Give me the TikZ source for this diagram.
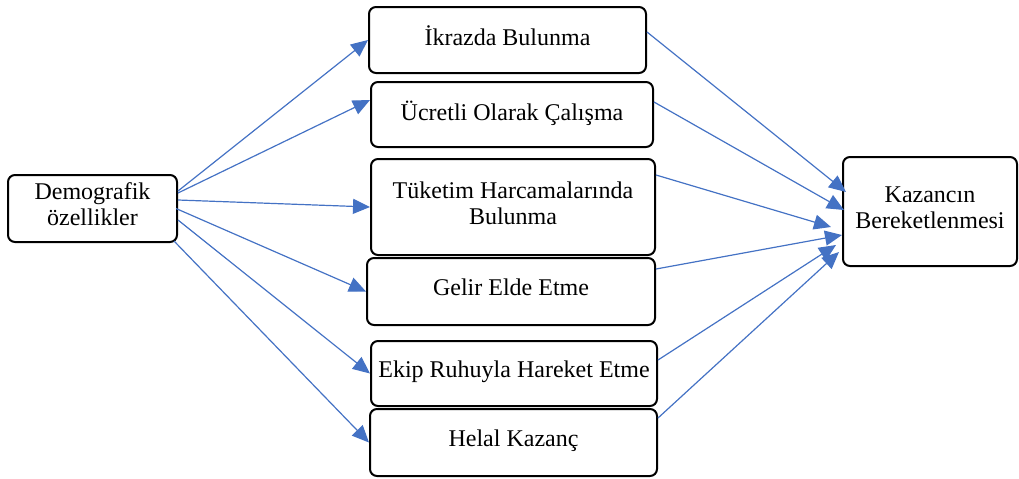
\documentclass[tikz,border=0pt]{standalone}
\usepackage{fontspec}
\setmainfont{Liberation Serif}
\usetikzlibrary{arrows.meta}
\definecolor{okmavi}{HTML}{4472C4}
\begin{document}
\begin{tikzpicture}[x=0.5pt, y=-0.5pt,
    kutu/.style={draw, line width=1pt, rounded corners=3.5pt, align=center,
        inner sep=0pt, text depth=4pt, font=\fontsize{12}{13}\selectfont},
    ok/.style={color=okmavi, line width=0.6pt, -{Triangle[length=8.5pt,width=7.5pt]}}]
    \useasboundingbox (0,0) rectangle (1019,478);
    % Left box
    \node[kutu, minimum width=84.5pt, minimum height=33.5pt] (demo) at (92.5,208.5) {Demografik\\özellikler};
    % Middle boxes
    \node[kutu, minimum width=138.5pt, minimum height=33pt] (ikraz) at (507.5,40) {İkrazda Bulunma};
    \node[kutu, minimum width=141pt, minimum height=32.5pt] (ucret) at (512,114.5) {Ücretli Olarak Çalışma};
    \node[kutu, minimum width=142pt, minimum height=48pt] (tuket) at (513,207) {Tüketim Harcamalarında\\Bulunma};
    \node[kutu, minimum width=144pt, minimum height=33.5pt] (gelir) at (511,291.5) {Gelir Elde Etme};
    \node[kutu, minimum width=143pt, minimum height=32.5pt] (ekip) at (514,373.5) {Ekip Ruhuyla Hareket Etme};
    \node[kutu, minimum width=143.5pt, minimum height=33.5pt] (helal) at (513.5,442.5) {Helal Kazanç};
    % Right box
    \node[kutu, minimum width=87pt, minimum height=54.5pt] (kazanc) at (930,211.5) {Kazancın\\Bereketlenmesi};
    % Left-hand Arrows
    \draw[ok] ([yshift=8.75pt]demo.east) -- (ikraz.west);
    \draw[ok] ([yshift=7.75pt]demo.east) -- ([yshift=7.25pt]ucret.west);
    \draw[ok] ([yshift=4.25pt]demo.east) -- (tuket.west);
    \draw[ok] ([xshift=-1pt]demo.east) -- (gelir.west);
    \draw[ok] ([yshift=-5.75pt]demo.east) -- (ekip.west);
    \draw[ok] ([xshift=-2pt,yshift=1pt]demo.south east) -- (helal.west);
    % Right-hand Arrows
    \draw[ok] ([yshift=4pt]ikraz.east) -- ([xshift=2pt,yshift=9.75pt]kazanc.west);
    \draw[ok] ([yshift=6.25pt]ucret.east) -- ([xshift=1pt,yshift=0.75pt]kazanc.west);
    \draw[ok] ([yshift=16pt]tuket.east) -- ([xshift=-5.5pt,yshift=-7.75pt]kazanc.west);
    \draw[ok] ([yshift=11.25pt]gelir.east) -- ([yshift=-11.75pt]kazanc.west);
    \draw[ok] ([yshift=6.75pt]ekip.east) -- ([xshift=-3pt,yshift=-16.75pt]kazanc.west);
    \draw[ok] ([yshift=12.25pt]helal.east) -- ([xshift=-1.5pt,yshift=-20.25pt]kazanc.west);
\end{tikzpicture}
\end{document}
